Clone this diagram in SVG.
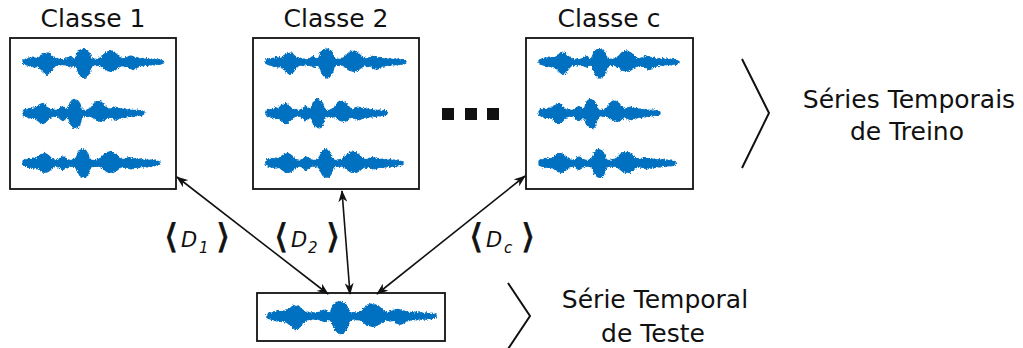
<svg xmlns="http://www.w3.org/2000/svg" xmlns:xlink="http://www.w3.org/1999/xlink" width="1023" height="348" viewBox="0 0 1023 348">
<style>
.box{fill:#fff;stroke:#111;stroke-width:1.8}
.wave{fill:#0070C0;stroke:#0070C0;stroke-width:1.2;stroke-linejoin:miter}
.t{font-family:"DejaVu Sans","Verdana",sans-serif;font-size:25px;fill:#111}
.lbl{font-family:"DejaVu Sans","Verdana",sans-serif;font-size:21px;fill:#111}
.ab{font-family:"DejaVu Sans","Verdana",sans-serif;font-size:28px;fill:#111;stroke:#111;stroke-width:0.6}
.it{font-style:italic}
.sub{font-style:italic;font-size:15px}
.conn{stroke:#111;stroke-width:1.6;fill:none}
.brk{stroke:#111;stroke-width:2;fill:none}
.wv{filter:url(#rough)}
</style>
<defs>
<filter id="rough" x="-5%" y="-40%" width="110%" height="180%">
<feTurbulence type="fractalNoise" baseFrequency="1.1 0.6" numOctaves="2" seed="3" result="n"/>
<feDisplacementMap in="SourceGraphic" in2="n" scale="3.5" xChannelSelector="R" yChannelSelector="G"/>
</filter>
<marker id="ah" viewBox="0 0 12 9" refX="11" refY="4.5" markerWidth="12" markerHeight="9" markerUnits="userSpaceOnUse" orient="auto-start-reverse">
<path d="M0,0 L12,4.5 L0,9 L3.5,4.5 Z" fill="#111"/>
</marker>
<path id="wA" class="wave" d="M0,-1.5 L2,-3 L4,-2.5 L6,-4 L8,-3.5 L10,-5 L12,-3.5 L14,-4.5 L16,-4 L18,-6.5 L20,-7.5 L22,-9.5 L24,-8.5 L26,-9 L28,-6.5 L30,-5 L32,-3 L34,-3.5 L36,-2.5 L38,-3 L40,-2 L42,-3 L44,-3.5 L46,-5 L48,-5.5 L50,-3.5 L52,-2.5 L54,-7 L55,-10 L57,-12 L59,-12.5 L61,-13 L63,-12 L65,-11 L67,-7 L68,-4 L70,-2.5 L72,-3 L74,-2.5 L76,-3.5 L78,-4.5 L80,-6 L82,-8.5 L84,-10 L86,-10.5 L88,-11 L90,-10 L92,-9 L94,-7 L96,-5 L98,-4 L100,-3 L102,-4 L104,-4.5 L106,-5.5 L108,-6 L110,-5.5 L112,-4 L114,-4.5 L116,-3.5 L118,-3 L120,-3.5 L122,-2.5 L124,-3.5 L126,-2.5 L128,-3 L130,-2 L132,-3 L134,-2 L136,-2.5 L138,-1.5 L140,-1 L140,1 L138,2 L136,2.5 L134,2 L132,3 L130,2.5 L128,3 L126,2.5 L124,3.5 L122,3 L120,3.5 L118,4 L116,4.5 L114,5.5 L112,7 L110,7.5 L108,6.5 L106,5 L104,4 L102,4.5 L100,3.5 L98,4 L96,5 L94,6.5 L92,8 L90,9 L88,9.5 L86,9 L84,8.5 L82,7.5 L80,5.5 L78,4 L76,3 L74,3.5 L72,2.5 L70,3 L68,5 L67,9 L65,13 L63,15.5 L61,16 L59,15 L57,13 L55,9 L54,6 L52,3 L50,3.5 L48,5 L46,4.5 L44,3.5 L42,2.5 L40,3 L38,2.5 L36,3.5 L34,3 L32,4 L30,6 L28,9 L26,11 L24,12.5 L22,11 L20,9 L18,7 L16,5.5 L14,4.5 L12,5 L10,4 L8,4.5 L6,3.5 L4,3 L2,2.5 L0,1.5 Z"/>
<path id="wB" class="wave" d="M0,-2 L2,-3.5 L4,-3 L6,-4.5 L8,-4 L10,-5 L12,-4.5 L14,-6 L16,-8 L18,-9 L20,-9.5 L22,-8 L24,-6 L26,-4 L28,-3 L30,-3.5 L32,-2.5 L34,-3 L36,-4 L38,-5.5 L40,-6.5 L42,-5 L44,-3 L46,-6 L47,-10 L49,-12.5 L51,-13.5 L53,-13 L55,-12 L57,-9 L58,-5 L60,-3 L62,-2.5 L64,-3 L66,-4 L68,-5 L70,-8 L72,-10.5 L74,-12 L76,-12 L78,-11 L80,-9.5 L82,-7 L84,-5 L86,-4 L88,-4.5 L90,-5.5 L92,-6 L94,-5.5 L96,-4 L98,-4.5 L100,-3.5 L102,-4 L104,-3 L106,-3.5 L108,-2.5 L110,-3 L112,-2.5 L114,-3 L116,-2 L118,-2.5 L121,-1 L121,1 L118,2.5 L116,2 L114,3 L112,2.5 L110,3.5 L108,3 L106,4 L104,3.5 L102,4.5 L100,4 L98,5 L96,5.5 L94,6.5 L92,7 L90,6 L88,5 L86,4 L84,5 L82,6.5 L80,8 L78,8.5 L76,8 L74,7.5 L72,6 L70,4.5 L68,3.5 L66,3 L64,3.5 L62,2.5 L60,3.5 L58,7 L57,11 L55,14.5 L53,15 L51,14.5 L49,13 L47,10 L46,6 L44,4 L42,6 L40,7.5 L38,6.5 L36,4.5 L34,3 L32,3.5 L30,3 L28,4 L26,5.5 L24,7.5 L22,9.5 L20,10.5 L18,10 L16,8.5 L14,6 L12,5 L10,5.5 L8,4.5 L6,5 L4,3.5 L2,3 L0,2 Z"/>
<path id="wC" class="wave" d="M0,-2 L2,-3.5 L4,-3 L6,-4.5 L8,-4 L10,-5 L12,-4 L14,-5.5 L16,-7 L18,-8.5 L20,-9 L22,-9.5 L24,-8.5 L26,-7 L28,-5 L30,-3.5 L32,-3 L34,-2.5 L36,-3.5 L38,-5 L40,-6 L42,-5 L44,-3.5 L46,-3 L48,-2.5 L50,-3 L52,-4 L54,-7 L55,-10 L57,-12.5 L59,-13.5 L61,-13 L63,-12 L65,-9 L66,-5 L68,-3 L70,-2.5 L72,-3 L74,-3.5 L76,-4 L78,-5 L80,-7 L82,-9 L84,-10.5 L86,-11 L88,-11.5 L90,-10.5 L92,-9 L94,-7 L96,-5 L98,-4 L100,-3.5 L102,-4 L104,-5 L106,-5.5 L108,-5 L110,-4 L112,-4.5 L114,-3.5 L116,-4 L118,-3 L120,-3.5 L122,-2.5 L124,-3.5 L126,-2.5 L128,-3 L130,-2 L132,-3 L134,-2 L137,-1 L137,1 L134,2.5 L132,3 L130,2.5 L128,3.5 L126,3 L124,4 L122,3 L120,4 L118,3.5 L116,4.5 L114,4 L112,5 L110,5.5 L108,6 L106,5.5 L104,4.5 L102,4 L100,4.5 L98,4 L96,5.5 L94,7 L92,8.5 L90,9.5 L88,9 L86,9.5 L84,8.5 L82,7 L80,5.5 L78,4 L76,3 L74,3.5 L72,3 L70,3.5 L68,4 L66,8 L65,11 L63,14 L61,14.5 L59,14 L57,12.5 L55,9 L54,6 L52,4 L50,3 L48,3.5 L46,3 L44,4 L42,5.5 L40,6.5 L38,5.5 L36,4 L34,3 L32,3.5 L30,4 L28,6 L26,8 L24,9 L22,9.5 L20,9 L18,8 L16,6.5 L14,5 L12,4.5 L10,5 L8,4 L6,4.5 L4,3.5 L2,3 L0,2 Z"/>
</defs>

<g id="class1">
<text class="t" x="93" y="27" text-anchor="middle">Classe 1</text>
<rect class="box" x="10" y="38" width="166" height="151"/>
<g class="wv">
<use xlink:href="#wA" href="#wA" x="23" y="62"/>
<use xlink:href="#wB" href="#wB" x="23" y="113"/>
<use xlink:href="#wC" href="#wC" x="23" y="163"/>
</g>
</g>

<g id="class2">
<text class="t" x="336" y="27" text-anchor="middle">Classe 2</text>
<rect class="box" x="253" y="38" width="166" height="151"/>
<g class="wv">
<use xlink:href="#wA" href="#wA" x="266" y="62"/>
<use xlink:href="#wB" href="#wB" x="266" y="113"/>
<use xlink:href="#wC" href="#wC" x="266" y="163"/>
</g>
</g>

<g id="ellipsis">
<rect x="442" y="108" width="12" height="12" fill="#111"/>
<rect x="465" y="108" width="12" height="12" fill="#111"/>
<rect x="487" y="108" width="12" height="12" fill="#111"/>
</g>

<g id="classc">
<text class="t" x="609" y="27" text-anchor="middle">Classe c</text>
<rect class="box" x="526" y="38" width="167" height="151"/>
<g class="wv">
<use xlink:href="#wA" href="#wA" x="539" y="62"/>
<use xlink:href="#wB" href="#wB" x="539" y="113"/>
<use xlink:href="#wC" href="#wC" x="539" y="163"/>
</g>
</g>

<g id="train-label">
<path class="brk" d="M742,59 L769,113 L742,168"/>
<text class="t" x="909" y="108" text-anchor="middle">Séries Temporais</text>
<text class="t" x="907" y="140" text-anchor="middle">de Treino</text>
</g>

<g id="test">
<rect class="box" x="257" y="293" width="188" height="48"/>
<g class="wv"><g transform="translate(267,316) scale(1.207,1.1)"><use xlink:href="#wA" href="#wA"/></g></g>
</g>

<g id="test-label">
<path class="brk" d="M508,283 L530,316 L508,349"/>
<text class="t" x="655" y="308" text-anchor="middle">Série Temporal</text>
<text class="t" x="653" y="342" text-anchor="middle">de Teste</text>
</g>

<g id="connectors">
<path class="conn" d="M177,177 L328,294" marker-start="url(#ah)" marker-end="url(#ah)"/>
<path class="conn" d="M342,191 L350,294" marker-start="url(#ah)" marker-end="url(#ah)"/>
<path class="conn" d="M525,176 L377,294" marker-start="url(#ah)" marker-end="url(#ah)"/>
</g>

<g id="label-d1">
<text class="ab" transform="translate(164,248) scale(1.3,1.2)">⟨</text>
<text class="lbl" y="247"><tspan class="it" x="181">D</tspan><tspan class="sub" x="199" dy="6">1</tspan></text>
<text class="ab" transform="translate(216,248) scale(1.3,1.2)">⟩</text>
</g>
<g id="label-d2">
<text class="ab" transform="translate(274,248) scale(1.3,1.2)">⟨</text>
<text class="lbl" y="247"><tspan class="it" x="291">D</tspan><tspan class="sub" x="308" dy="6">2</tspan></text>
<text class="ab" transform="translate(326,248) scale(1.3,1.2)">⟩</text>
</g>
<g id="label-dc">
<text class="ab" transform="translate(469,248) scale(1.3,1.2)">⟨</text>
<text class="lbl" y="247"><tspan class="it" x="486">D</tspan><tspan class="sub" x="504" dy="6">c</tspan></text>
<text class="ab" transform="translate(521,248) scale(1.3,1.2)">⟩</text>
</g>
</svg>
